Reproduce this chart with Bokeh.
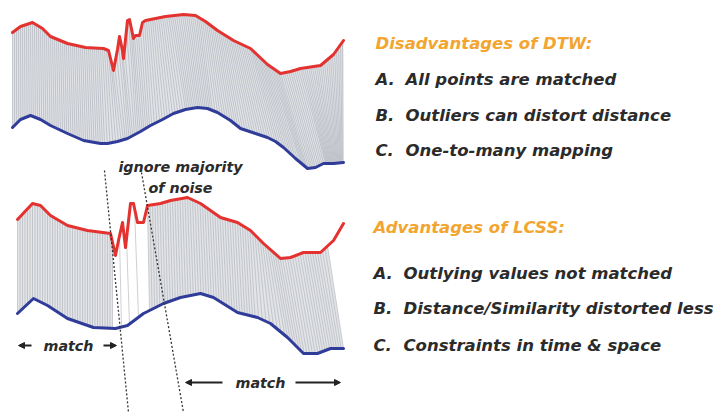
import numpy as np
from bokeh.plotting import figure
from bokeh.models import Range1d, Label, Arrow, NormalHead
from bokeh.embed import file_html
from bokeh.resources import INLINE

# ---- DTW panel (top): two series ----
dtw_red_x = [12, 20, 32, 42, 50, 67, 85, 103, 108, 113, 117, 119, 122, 123, 127, 129, 133, 135, 139, 142, 145,
             165, 183, 195, 205, 217, 233, 250, 267, 280, 290, 300, 320, 333, 343]
dtw_red_y = [32, 26, 22, 28, 36, 43, 47, 48, 50, 70, 49, 36, 50, 58, 20, 19, 38, 35, 35, 22, 20,
             16, 14, 15, 21, 30, 40, 48, 64, 73, 71, 68, 65, 54, 40]
dtw_blue_x = [12, 20, 30, 40, 50, 67, 83, 100, 107, 117, 127, 140, 150, 162, 173, 185, 197, 207, 217, 230,
              240, 255, 267, 275, 283, 295, 307, 315, 323, 333, 343]
dtw_blue_y = [127, 119, 115, 119, 125, 133, 140, 143, 143, 141, 138, 131, 125, 119, 113, 109, 107, 108, 112, 120,
              128, 133, 137, 141, 147, 158, 168, 167, 163, 163, 162]
# DTW warping (red position -> blue position)
dtw_warp_top = [12, 60, 100, 113, 127, 143, 170, 200, 240, 270, 300, 343]
dtw_warp_bot = [12, 62, 104, 122, 135, 150, 185, 212, 262, 300, 325, 343]

# ---- LCSS panel (bottom): two series ----
lcss_red_x = [17, 32, 40, 50, 67, 87, 110, 115, 118, 122, 125, 130, 133, 137, 143, 147, 160, 170, 187, 200,
              220, 237, 250, 263, 280, 290, 303, 320, 333, 343]
lcss_red_y = [219, 203, 205, 215, 225, 230, 233, 255, 240, 222, 247, 203, 203, 222, 222, 205, 203, 200, 197, 203,
              217, 222, 230, 243, 258, 257, 252, 252, 240, 223]
lcss_blue_x = [17, 33, 47, 67, 93, 115, 127, 143, 163, 180, 200, 213, 237, 257, 270, 287, 303, 317, 330, 343]
lcss_blue_y = [313, 298, 305, 318, 327, 328, 325, 313, 303, 297, 293, 297, 312, 317, 323, 337, 353, 353, 348, 348]
# LCSS matches: left matched block, a few stray lines in the noise, right matched block
lcss_left_top = [17, 112]
lcss_left_bot = [17, 112]
lcss_noise_top = [119, 126, 134]
lcss_noise_bot = [121, 129, 138]
lcss_right_top = [147, 250, 270, 300, 327]
lcss_right_bot = [149, 255, 285, 318, 343]

heading_dtw = "Disadvantages of DTW:"
items_dtw = ["All points are matched", "Outliers can distort distance", "One-to-many mapping"]
heading_lcss = "Advantages of LCSS:"
items_lcss = ["Outlying values not matched", "Distance/Similarity distorted less", "Constraints in time & space"]
letters = ["A.", "B.", "C."]

p = figure(width=718, height=412, x_range=Range1d(0, 718), y_range=Range1d(412, 0),
           output_backend="svg", toolbar_location=None, min_border=0,
           x_axis_location=None, y_axis_location=None)
p.grid.visible = False
p.outline_line_color = None
p.background_fill_color = "white"


def band(t0, t1, b0, b1, rx, ry, blx, bly):
    tx = np.linspace(t0, t1, 120)
    bx = np.linspace(b0, b1, 120)
    xs = np.concatenate([tx, bx[::-1]])
    ys = np.concatenate([np.interp(tx, rx, ry), np.interp(bx[::-1], blx, bly)])
    return xs, ys


def segs(tx, bx, rx, ry, blx, bly):
    tx = np.asarray(tx, float)
    bx = np.asarray(bx, float)
    return dict(x0=tx, y0=np.interp(tx, rx, ry), x1=bx, y1=np.interp(bx, blx, bly))


fill = "#e2e4e7"
# light background bands between matched parts
xs, ys = band(12, 343, 12, 343, dtw_red_x, dtw_red_y, dtw_blue_x, dtw_blue_y)
p.patch(xs, ys, fill_color=fill, line_color=None)
xs, ys = band(17, 112, 17, 112, lcss_red_x, lcss_red_y, lcss_blue_x, lcss_blue_y)
p.patch(xs, ys, fill_color=fill, line_color=None)
xs, ys = band(147, 327, 149, 343, lcss_red_x, lcss_red_y, lcss_blue_x, lcss_blue_y)
p.patch(xs, ys, fill_color=fill, line_color=None)

# DTW match lines
t = np.arange(12, 343.1, 2.0)
b = np.interp(t, dtw_warp_top, dtw_warp_bot)
d = segs(t, b, dtw_red_x, dtw_red_y, dtw_blue_x, dtw_blue_y)
p.segment(**d, line_color="#a4a9b3", line_width=1, line_alpha=0.55)

# LCSS match lines
t1 = np.arange(17, 112.1, 2.5)
b1 = np.interp(t1, lcss_left_top, lcss_left_bot)
t2 = np.arange(147, 327.1, 2.5)
b2 = np.interp(t2, lcss_right_top, lcss_right_bot)
tt = np.concatenate([t1, lcss_noise_top, t2])
bb = np.concatenate([b1, lcss_noise_bot, b2])
d2 = segs(tt, bb, lcss_red_x, lcss_red_y, lcss_blue_x, lcss_blue_y)
p.segment(**d2, line_color="#aeb1b8", line_width=1, line_alpha=0.6)

# curves
for cx, cy, col in [(dtw_red_x, dtw_red_y, "#e3322f"), (dtw_blue_x, dtw_blue_y, "#2f3c99"),
                    (lcss_red_x, lcss_red_y, "#e3322f"), (lcss_blue_x, lcss_blue_y, "#2f3c99")]:
    p.line(cx, cy, line_color=col, line_width=3, line_join="round", line_cap="round")

# dotted boundary lines
p.line([104, 128], [170, 412], line_color="#333333", line_width=1.3, line_dash="2 2")
p.line([141, 183], [172, 412], line_color="#333333", line_width=1.3, line_dash="2 2")

font = "DejaVu Sans"
small = "14.3px"
for txt, x, y in [("ignore majority", 180, 166), ("of noise", 180, 187), ("match", 68, 345), ("match", 260, 382)]:
    p.add_layout(Label(x=x, y=y, text=txt, text_font=font, text_font_style="bold italic",
                       text_font_size=small, text_color="#2b2b2b", text_align="center",
                       text_baseline="middle"))

for xs_, xe, y in [(31, 18, 345), (103, 116, 345), (222, 185, 382), (295, 340, 382)]:
    p.add_layout(Arrow(end=NormalHead(size=6, fill_color="#222222", line_color="#222222"),
                       x_start=xs_, y_start=y, x_end=xe, y_end=y, line_color="#222222", line_width=2))

big = "16.5px"
p.add_layout(Label(x=375, y=43, text=heading_dtw, text_font=font, text_font_style="bold italic",
                   text_font_size=big, text_color="#f2a531", text_baseline="middle"))
for i, (lt, it) in enumerate(zip(letters, items_dtw)):
    y = [79, 115, 150][i]
    p.add_layout(Label(x=375, y=y, text=lt, text_font=font, text_font_style="bold italic",
                       text_font_size=big, text_color="#2b2b2b", text_baseline="middle"))
    p.add_layout(Label(x=405, y=y, text=it, text_font=font, text_font_style="bold italic",
                       text_font_size=big, text_color="#2b2b2b", text_baseline="middle"))

p.add_layout(Label(x=373, y=227, text=heading_lcss, text_font=font, text_font_style="bold italic",
                   text_font_size=big, text_color="#f2a531", text_baseline="middle"))
for i, (lt, it) in enumerate(zip(letters, items_lcss)):
    y = [273, 308, 345][i]
    p.add_layout(Label(x=373, y=y, text=lt, text_font=font, text_font_style="bold italic",
                       text_font_size=big, text_color="#2b2b2b", text_baseline="middle"))
    p.add_layout(Label(x=403, y=y, text=it, text_font=font, text_font_style="bold italic",
                       text_font_size=big, text_color="#2b2b2b", text_baseline="middle"))

open("out.html", "w").write(file_html(p, INLINE))
